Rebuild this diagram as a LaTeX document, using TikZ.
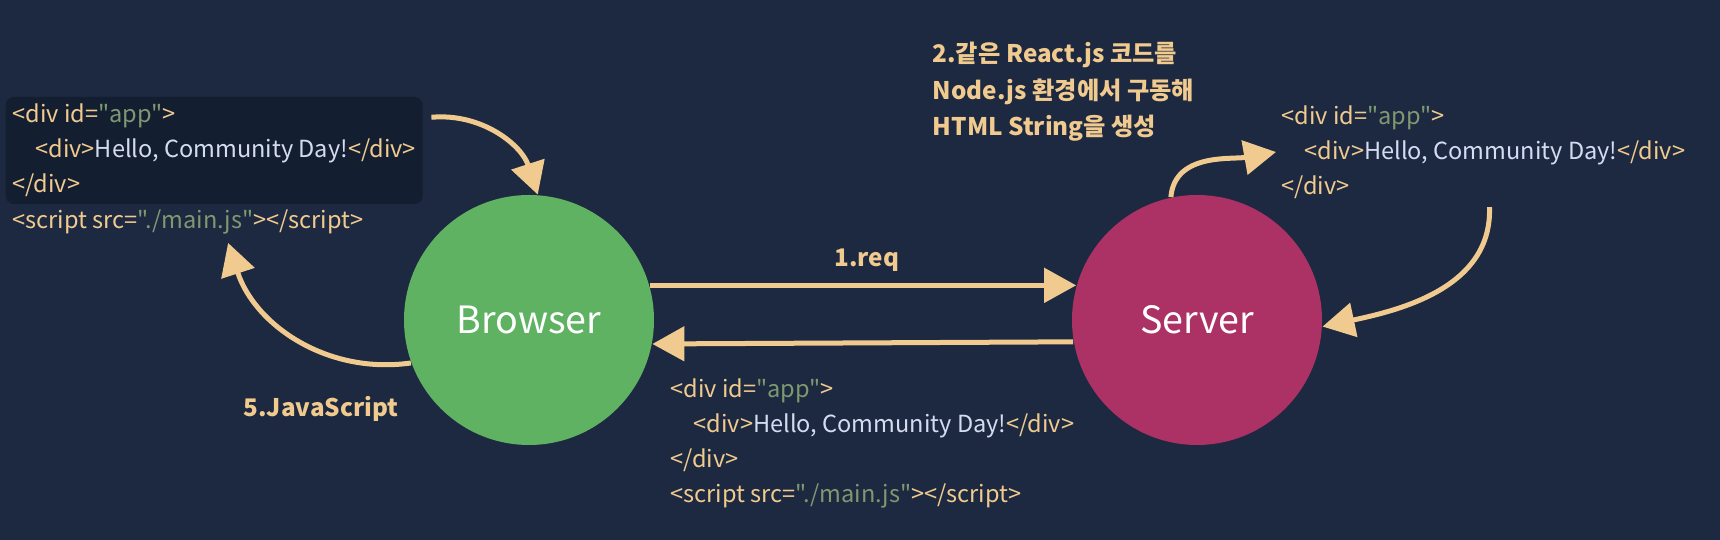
\documentclass[tikz,border=0pt]{standalone}
\usepackage{fontspec}
\setmainfont{Noto Sans CJK KR}[Ligatures=TeXOff]
\usetikzlibrary{arrows.meta}

\definecolor{bgnavy}{RGB}{28,41,64}
\definecolor{boxnavy}{RGB}{20,30,49}
\definecolor{chalk}{RGB}{240,202,142}
\definecolor{browsergreen}{RGB}{96,178,99}
\definecolor{serverpink}{RGB}{172,49,101}
\definecolor{strgreen}{RGB}{126,152,112}
\definecolor{lavender}{RGB}{214,220,240}

\newcommand{\codetag}[1]{\textcolor{chalk}{#1}}
\newcommand{\codestr}[1]{\textcolor{strgreen}{#1}}
\newcommand{\codetxt}[1]{\textcolor{lavender}{#1}}

\begin{document}
\begin{tikzpicture}[
    endpoint/.style={circle, minimum size=2.5cm, inner sep=0pt, text=white, font=\fontsize{10.7}{12}\selectfont},
    codeblock/.style={anchor=west, align=left, inner sep=0pt, font=\fontsize{6.7}{9.96}\selectfont},
    steplabel/.style={text=chalk, font=\bfseries\fontsize{6.9}{10.4}\selectfont, inner sep=0pt},
    flow/.style={-{Triangle[length=0.32cm, width=0.34cm]}, line width=0.05cm, draw=chalk}
]
    \useasboundingbox (0,0) rectangle (17.2,5.4);
    \fill[bgnavy] (0,0) rectangle (17.2,5.4);

    % --- MACHINES ---
    \node[endpoint, fill=browsergreen] (browser) at (5.29,2.20) {Browser};
    \node[endpoint, fill=serverpink] (server) at (11.97,2.20) {Server};

    % --- CODE ON THE BROWSER SIDE ---
    \node[codeblock, fill=boxnavy, rounded corners=0.08cm, minimum width=4.17cm, minimum height=1.07cm, inner xsep=0.06cm] (leftcode) at (0.05,3.895)
        {\codetag{<div id=}\codestr{"app"}\codetag{>}\\
         \hspace*{0.23cm}\codetag{<div>}\codetxt{Hello, Community Day!}\codetag{</div>}\\
         \codetag{</div>}};
    \node[codeblock] (leftscript) at (0.12,3.18)
        {\codetag{<script src=}\codestr{"./main.js"}\codetag{></script>}};

    % --- CODE ON THE SERVER SIDE ---
    \node[codeblock] (rightcode) at (12.81,3.88)
        {\codetag{<div id=}\codestr{"app"}\codetag{>}\\
         \hspace*{0.23cm}\codetag{<div>}\codetxt{Hello, Community Day!}\codetag{</div>}\\
         \codetag{</div>}};

    % --- RESPONSE ---
    \node[codeblock] (response) at (6.70,0.965)
        {\codetag{<div id=}\codestr{"app"}\codetag{>}\\
         \hspace*{0.23cm}\codetag{<div>}\codetxt{Hello, Community Day!}\codetag{</div>}\\
         \codetag{</div>}\\
         \codetag{<script src=}\codestr{"./main.js"}\codetag{></script>}};

    % --- STEP LABELS ---
    \node[steplabel] (req) at (8.67,2.80) {1.req};
    \node[steplabel, anchor=west, align=left] (render) at (9.32,4.48)
        {2.같은 React.js 코드를\\Node.js 환경에서 구동해\\HTML String을 생성};
    \node[steplabel] (js) at (3.21,1.31) {5.JavaScript};

    % --- ARROWS ---
    \coordinate (boxout) at ([xshift=0.08cm, yshift=-0.21cm]leftcode.north east);
    \coordinate (scriptin) at ([xshift=0.4cm, yshift=-0.08cm]leftscript.south);
    \coordinate (rightout) at ([xshift=0.06cm, yshift=-0.08cm]rightcode.south);
    \coordinate (rightin) at ([xshift=-0.05cm]rightcode.west);

    \draw[flow] (browser.16) -- (server.164);
    \draw[flow] (server.190) -- (browser.349);
    \draw[flow] (boxout) to[out=5, in=108] (browser.86);
    \draw[flow] (browser.200) to[out=188, in=-72] (scriptin);
    \draw[flow] (server.102) to[out=85, in=190] (rightin);
    \draw[flow] (rightout) to[out=-88, in=12] (server.-3);
\end{tikzpicture}
\end{document}
